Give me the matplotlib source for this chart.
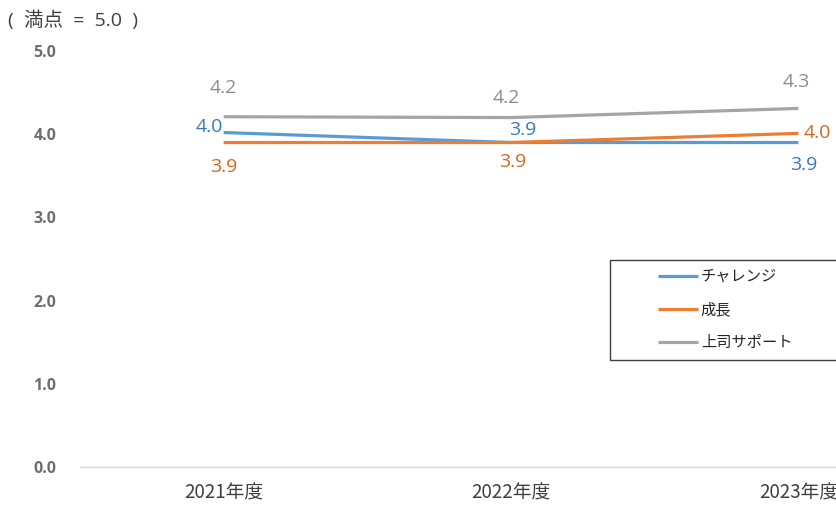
import matplotlib
matplotlib.use("Agg")
import matplotlib.pyplot as plt
from matplotlib.patches import Rectangle

plt.rcParams['font.family'] = ['Noto Sans CJK JP', 'DejaVu Sans']
NUMFONT = ['Open Sans', 'Noto Sans CJK JP']

categories = ["2021年度", "2022年度", "2023年度"]
series_names = ["チャレンジ", "成長", "上司サポート"]
challenge = [4.02, 3.90, 3.90]
growth = [3.90, 3.90, 4.01]
support = [4.21, 4.20, 4.31]
label_challenge = ["4.0", "3.9", "3.9"]
label_growth = ["3.9", "3.9", "4.0"]
label_support = ["4.2", "4.2", "4.3"]
yticks = [0.0, 1.0, 2.0, 3.0, 4.0, 5.0]

colors = ["#5B9BD5", "#ED7D31", "#A5A5A5"]
label_colors = ["#3A78BE", "#D2691E", "#8C8C8C"]
# label offsets in pixels (dx, dy) and alignment
offsets_challenge = [((-1, 6), 'right', 'center'), ((12, 13), 'center', 'center'), ((5, -22), 'center', 'center')]
offsets_growth = [((0, -24), 'center', 'center'), ((2, -19), 'center', 'center'), ((5, 0), 'left', 'center')]
offsets_support = [((0, 29), 'center', 'center'), ((-5, 20), 'center', 'center'), ((-2, 26), 'center', 'center')]

W, H = 836, 509
fig = plt.figure(figsize=(W / 100, H / 100), dpi=100)
left_px, right_px, bottom_px, top_px = 80, 942, 467, 51
ax = fig.add_axes([left_px / W, (H - bottom_px) / H, (right_px - left_px) / W, (bottom_px - top_px) / H])

x = list(range(len(categories)))
data = [challenge, growth, support]
labels = [label_challenge, label_growth, label_support]
offs = [offsets_challenge, offsets_growth, offsets_support]
lines = []
for vals, c, name in zip(data, colors, series_names):
    ln, = ax.plot(x, vals, color=c, lw=2.3, solid_capstyle='butt', label=name, zorder=3)
    lines.append(ln)

for vals, labs, off, lc in zip(data, labels, offs, label_colors):
    for xi, v, lab, (d, ha, va) in zip(x, vals, labs, off):
        ax.annotate(lab, (xi, v), xytext=d, textcoords='offset pixels', ha=ha, va=va,
                    color=lc, fontsize=14, family=NUMFONT, zorder=4)

ax.set_xlim(-0.5, 2.5)
ax.set_ylim(0, 5)
ax.set_yticks(yticks)
ax.set_yticklabels([f"{t:.1f}" for t in yticks], color="#6E6E6E", fontsize=11.5,
                   fontweight='bold', family=NUMFONT)
ax.set_xticks(x)
ax.set_xticklabels(categories, color="#404040", fontsize=13.5)
ax.tick_params(axis='both', length=0)
ax.tick_params(axis='y', pad=17)
ax.tick_params(axis='x', pad=11)
for s in ['top', 'right', 'left']:
    ax.spines[s].set_visible(False)
ax.spines['bottom'].set_color('#D9D9D9')
ax.spines['bottom'].set_linewidth(1.0)

fig.text(8 / W, 1 - 20 / H, "(  満点  =  5.0  )", ha='left', va='center', fontsize=14,
         color="#404040", family=NUMFONT)

# legend frame
fig.patches.append(Rectangle((610 / W, 1 - 360 / H), 300 / W, 100 / H, transform=fig.transFigure,
                             fill=False, edgecolor="#404040", lw=1.0))
leg = fig.legend(handles=lines, labels=series_names, loc='upper left',
                 bbox_to_anchor=(652 / W, 1 - 262 / H), frameon=False, fontsize=11,
                 handlelength=2.6, handletextpad=0.2, labelspacing=1.05, borderaxespad=0)
for t in leg.get_texts():
    t.set_color("#262626")

fig.savefig("out.png", dpi=100)
